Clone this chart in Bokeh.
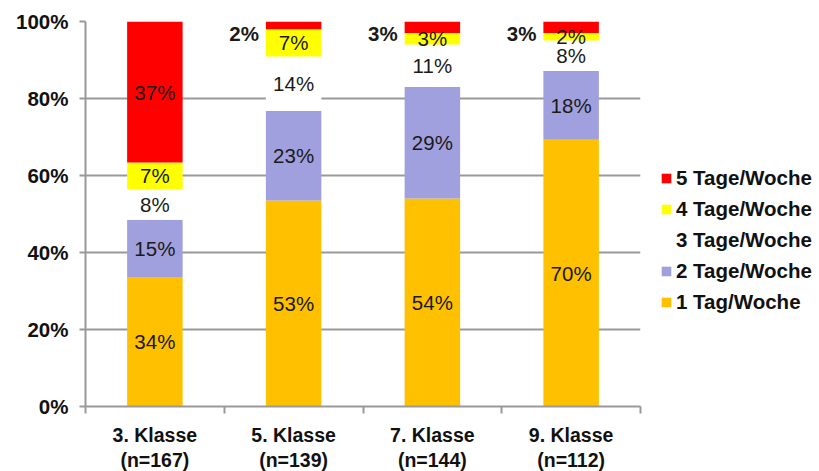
from bokeh.plotting import figure
from bokeh.models import (ColumnDataSource, Legend, LegendItem, NumeralTickFormatter,
                          LinearAxis, Range1d, FixedTicker)
from bokeh.core.properties import value
from bokeh.embed import file_html
from bokeh.resources import INLINE

# ---- data ----
klassen = ["3. Klasse", "5. Klasse", "7. Klasse", "9. Klasse"]
n_values = [167, 139, 144, 112]
series = ["1 Tag/Woche", "2 Tage/Woche", "3 Tage/Woche", "4 Tage/Woche", "5 Tage/Woche"]
tag1 = [34, 53, 54, 70]
tage2 = [15, 23, 29, 18]
tage3 = [8, 14, 11, 8]
tage4 = [7, 7, 3, 2]
tage5 = [37, 2, 3, 3]
colors = ["#FFC000", "#A0A0DE", "#FFFFFF", "#FFFF00", "#FF0000"]

values = [tag1, tage2, tage3, tage4, tage5]
keys = ["s1", "s2", "s3", "s4", "s5"]
ncat = len(klassen)
pos = [i + 0.5 for i in range(ncat)]
totals = [sum(v[i] for v in values) for i in range(ncat)]

data = {"x": pos}
for k, v in zip(keys, values):
    data[k] = [v[i] / totals[i] for i in range(ncat)]
source = ColumnDataSource(data)

FONT = "Liberation Sans"
FS = "20.5px"
BAR_W = 0.4

p = figure(x_range=Range1d(0, ncat), y_range=Range1d(0, 1),
           frame_width=555, frame_height=385,
           min_border_left=85, min_border_right=179, min_border_top=21, min_border_bottom=64,
           output_backend="svg", toolbar_location=None, x_axis_location=None)
p.outline_line_color = None
p.background_fill_color = "white"
p.border_fill_color = "white"

renderers = p.vbar_stack(keys, x="x", width=BAR_W, color=colors, line_color=None, source=source)

# labels
lx, ly, lt = [], [], []
ox, oy, ot = [], [], []
for i in range(ncat):
    cum = 0.0
    for j, v in enumerate(values):
        share = v[i] / totals[i]
        mid = cum + share / 2
        cum += share
        if j == 4 and v[i] < 5:
            ox.append(pos[i] - BAR_W / 2 - 0.05); oy.append(0.968); ot.append(f"{v[i]}%")
        else:
            lx.append(pos[i]); ly.append(mid); lt.append(f"{v[i]}%")

lab_src = ColumnDataSource(dict(x=lx, y=ly, t=lt))
p.text(x="x", y="y", text="t", source=lab_src, text_align="center", text_baseline="middle",
       text_font=value(FONT), text_font_size=FS, text_color="#1a1a1a")
out_src = ColumnDataSource(dict(x=ox, y=oy, t=ot))
p.text(x="x", y="y", text="t", source=out_src,
       text_align="right", text_baseline="middle", text_font=value(FONT),
       text_font_size=FS, text_font_style="bold", text_color="#1a1a1a")

# y axis
ya = p.yaxis[0]
ya.ticker = FixedTicker(ticks=[0, 0.2, 0.4, 0.6, 0.8, 1.0])
ya.formatter = NumeralTickFormatter(format="0%")
ya.axis_line_color = "#999999"
ya.axis_line_width = 2
ya.major_tick_line_color = "#999999"
ya.major_tick_line_width = 2
ya.major_tick_out = 6
ya.major_tick_in = 0
ya.minor_tick_line_color = None
ya.major_label_text_font = FONT
ya.major_label_text_font_size = FS
ya.major_label_text_font_style = "bold"
ya.major_label_text_color = "#111111"
ya.major_label_standoff = 11

p.ygrid.grid_line_color = "#999999"
p.ygrid.grid_line_width = 2
p.ygrid.ticker = FixedTicker(ticks=[0.2, 0.4, 0.6, 0.8, 1.0])
p.xgrid.grid_line_color = None

# x axis: labels at centers, tick marks between categories
xa = LinearAxis(ticker=FixedTicker(ticks=pos, minor_ticks=list(range(ncat + 1))),
                axis_line_color="#999999", axis_line_width=2,
                major_tick_line_color=None, major_tick_out=0, major_tick_in=0,
                minor_tick_line_color="#999999", minor_tick_line_width=2,
                minor_tick_out=7, minor_tick_in=0,
                major_label_text_font=FONT, major_label_text_font_size="19.5px",
                major_label_text_font_style="bold", major_label_text_color="#111111",
                major_label_text_line_height=1.15,
                major_label_standoff=10,
                major_label_overrides={x: f"{k}\n(n={n})" for x, k, n in zip(pos, klassen, n_values)})
p.add_layout(xa, "below")

# legend
items = [LegendItem(label=s, renderers=[r]) for s, r in zip(series, renderers)][::-1]
legend = Legend(items=items, location=(20, 92), orientation="vertical",
                label_text_font=FONT, label_text_font_size=FS, label_text_font_style="bold",
                label_text_color="#111111", glyph_width=12, glyph_height=12,
                label_height=22, spacing=7, label_standoff=4, padding=0, margin=0,
                border_line_color=None, background_fill_alpha=0)
p.add_layout(legend, "right")

open("out.html", "w").write(file_html(p, INLINE))
